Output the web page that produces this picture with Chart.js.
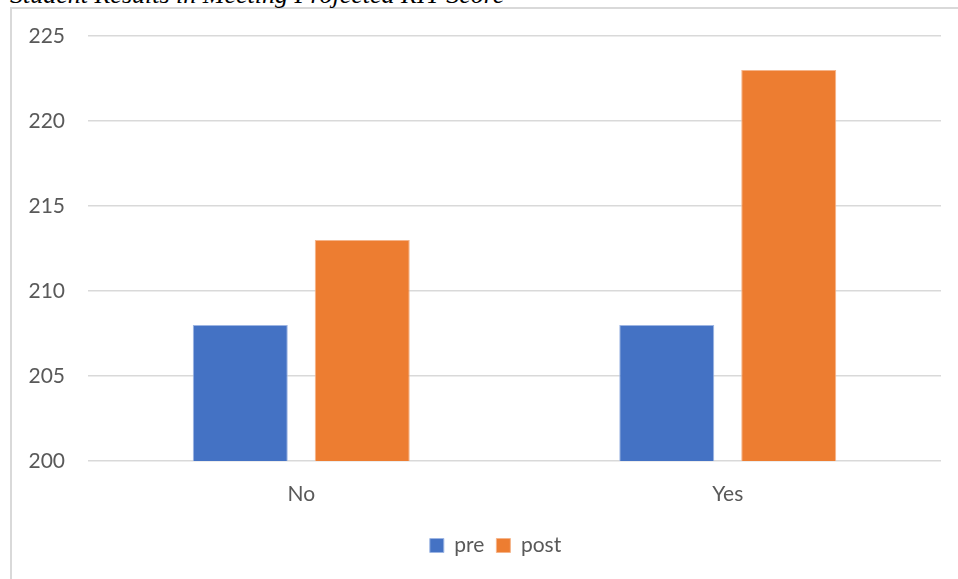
<!DOCTYPE html>
<html>
<head>
<meta charset="utf-8">
<script src="https://cdn.jsdelivr.net/npm/chart.js@4/dist/chart.umd.min.js"></script>
<style>
  html, body { margin: 0; padding: 0; background: #fff; overflow: hidden; }
  #wrap { position: relative; width: 958px; height: 579px; }
  #frame {
    position: absolute; left: 10px; top: 7px; width: 1100px; height: 1100px;
    border: 2px solid #d9d9d9; box-sizing: border-box;
  }
  #title {
    position: absolute; left: 10px; top: -18px; line-height: 26px;
    font-family: "Liberation Serif", serif; font-style: italic; font-size: 26px;
    color: #000; white-space: nowrap;
  }
  canvas { position: absolute; left: 0; top: 0; }
</style>
</head>
<body>
<div id="wrap">
  <div id="frame"></div>
  <div id="title">Student Results in Meeting Projected RIT Score</div>
  <canvas id="chart" width="958" height="579"></canvas>
</div>
<script>
const categories = ["No", "Yes"];
const preValues = [208, 208];
const postValues = [213, 223];
const yTicks = [200, 205, 210, 215, 220, 225];

const font = { family: "Lato, 'Open Sans', sans-serif", size: 21 };

// the legend in the original sits a bit right of the plot centre
const shiftLegend = {
  id: "shiftLegend",
  afterLayout(chart) {
    chart.legend.left += 25;
    chart.legend.right += 25;
  },
};

const ctx = document.getElementById("chart").getContext("2d");
new Chart(ctx, {
  type: "bar",
  data: {
    labels: categories,
    datasets: [
      {
        label: "pre",
        data: preValues,
        backgroundColor: "#4472C4",
        borderColor: "#9db5e3",
        borderWidth: 1,
        categoryPercentage: 0.572,
        barPercentage: 0.779,
      },
      {
        label: "post",
        data: postValues,
        backgroundColor: "#ED7D31",
        borderColor: "#f5b48a",
        borderWidth: 1,
        categoryPercentage: 0.572,
        barPercentage: 0.779,
      },
    ],
  },
  options: {
    responsive: false,
    animation: false,
    layout: { padding: { left: 0, right: 17, top: 36, bottom: 13 } },
    plugins: {
      title: { display: false },
      tooltip: { enabled: false },
      legend: {
        display: true,
        position: "bottom",
        labels: {
          boxWidth: 14,
          boxHeight: 14,
          padding: 12,
          color: "#595959",
          font: font,
        },
      },
    },
    scales: {
      x: {
        grid: { display: false, drawTicks: false },
        border: { display: false },
        ticks: { color: "#595959", font: font, padding: 21 },
        afterFit: (scale) => { scale.height = 62; },
      },
      y: {
        min: yTicks[0],
        max: yTicks[yTicks.length - 1],
        afterBuildTicks: (scale) => { scale.ticks = yTicks.map((v) => ({ value: v })); },
        grid: { color: "#d9d9d9", lineWidth: 1.5, drawTicks: false },
        border: { display: false },
        ticks: { color: "#595959", font: font, padding: 23 },
        afterFit: (scale) => { scale.width = 88; },
      },
    },
  },
  plugins: [shiftLegend],
});
</script>
</body>
</html>
